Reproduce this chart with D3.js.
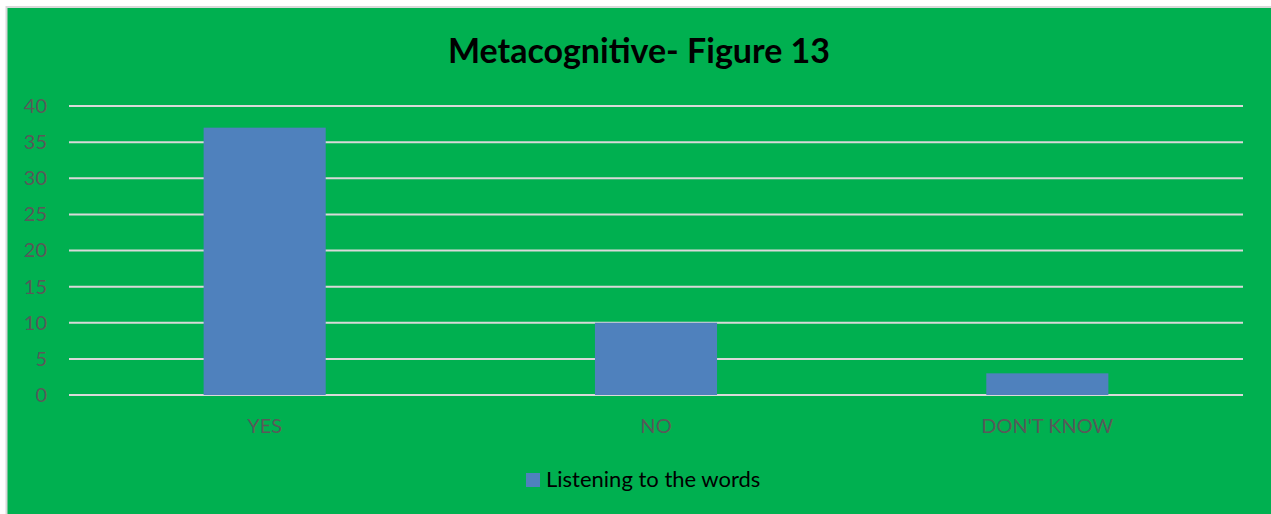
<!DOCTYPE html>
<html><head><meta charset="utf-8">
<script src="https://cdn.jsdelivr.net/npm/d3@7"></script>
<style>
html,body{margin:0;padding:0;background:#fff;}
svg{display:block;}
</style></head>
<body>
<svg id="chart" width="1271" height="514"></svg>
<script>
const title = "Metacognitive- Figure 13";
const categories = ["YES", "NO", "DON'T KNOW"];
const seriesName = "Listening to the words";
const values = [37, 10, 3];
const yTicks = [0, 5, 10, 15, 20, 25, 30, 35, 40];

const W = 1271, H = 514;
const svg = d3.select("#chart");
const FONT = "Lato, 'Open Sans', sans-serif";

// chart area background with border
svg.append("rect").attr("x", 6.5).attr("y", 7).attr("width", W).attr("height", H)
  .attr("fill", "#00B050").attr("stroke", "#D9D9D9").attr("stroke-width", 2);

const m = {left: 69, right: 1243, top: 106, bottom: 395};
const x = d3.scaleBand().domain(categories).range([m.left, m.right]).paddingInner(0.688).paddingOuter(0.344);
const y = d3.scaleLinear().domain([0, 40]).range([m.bottom, m.top]);

// gridlines
svg.append("g").selectAll("line").data(yTicks).join("line")
  .attr("x1", m.left).attr("x2", m.right)
  .attr("y1", d => y(d)).attr("y2", d => y(d))
  .attr("stroke", "#D9D9D9").attr("stroke-width", 2);

// y axis labels
const yAxis = d3.axisLeft(y).tickValues(yTicks).tickSize(0).tickPadding(0);
const yg = svg.append("g").attr("transform", `translate(${47},0)`).call(yAxis);
yg.select(".domain").remove();
yg.selectAll("text").attr("fill", "#595959").attr("font-family", FONT).attr("font-size", 20);

// bars
svg.append("g").selectAll("rect").data(values).join("rect")
  .attr("x", (d, i) => x(categories[i]))
  .attr("width", x.bandwidth())
  .attr("y", d => y(d))
  .attr("height", d => y(0) - y(d))
  .attr("fill", "#4F81BD");

// x axis labels
const xAxis = d3.axisBottom(x).tickSize(0).tickPadding(0);
const xg = svg.append("g").attr("transform", `translate(0,${418})`).call(xAxis);
xg.select(".domain").remove();
xg.selectAll("text").attr("fill", "#595959").attr("font-family", FONT).attr("font-size", 20).attr("dy", "0.75em");

// title
svg.append("text").attr("x", 639).attr("y", 63).attr("text-anchor", "middle")
  .attr("font-family", FONT).attr("font-weight", "bold").attr("font-size", 34)
  .attr("fill", "#000").text(title);

// legend
const lg = svg.append("g");
lg.append("rect").attr("x", 526).attr("y", 473).attr("width", 14).attr("height", 14).attr("fill", "#4F81BD");
lg.append("text").attr("x", 546).attr("y", 487).attr("font-family", FONT).attr("font-size", 22)
  .attr("fill", "#000").text(seriesName);
</script>
</body></html>
